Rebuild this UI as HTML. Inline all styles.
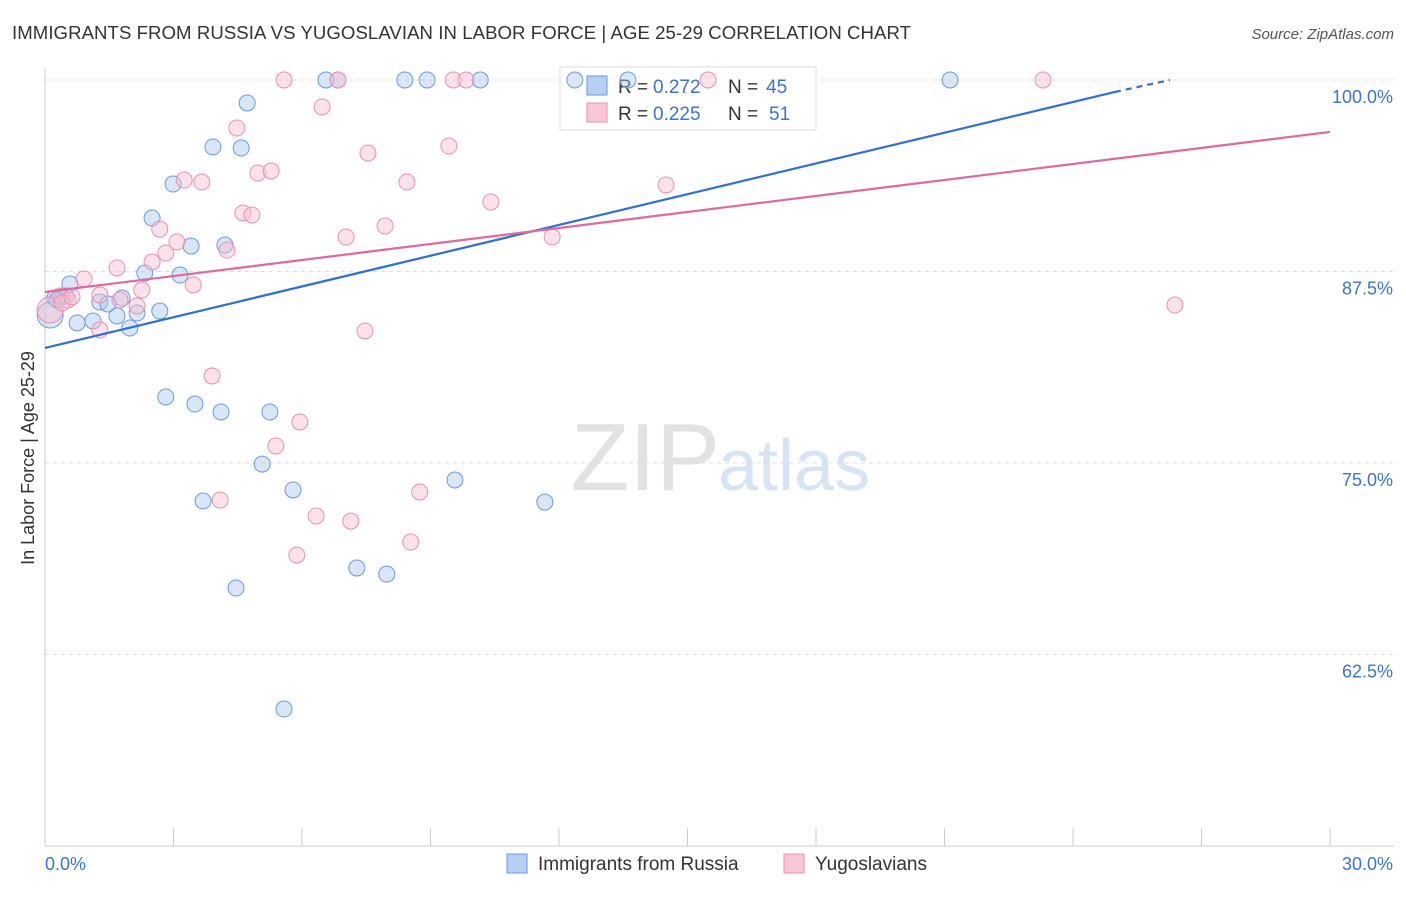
<!DOCTYPE html>
<html><head><meta charset="utf-8"><style>
body{margin:0;background:#fff;font-family:"Liberation Sans",sans-serif}
svg text{font-family:"Liberation Sans",sans-serif}
</style></head><body>
<svg id="c" width="1406" height="892">
<text x="12" y="39" font-size="18.6" fill="#333" textLength="899">IMMIGRANTS FROM RUSSIA VS YUGOSLAVIAN IN LABOR FORCE | AGE 25-29 CORRELATION CHART</text>
<text x="1394" y="39" font-size="15" fill="#555" font-style="italic" text-anchor="end">Source: ZipAtlas.com</text>
<text x="720" y="490" font-size="96" fill="#e2e2e2" text-anchor="end" font-family="Liberation Serif">ZIP</text>
<text x="718" y="490" font-size="72" fill="#d6e4f5">atlas</text>
<g id="grid"></g><g id="axes"></g>
<g>
<rect x="560" y="67" width="256" height="63" fill="#fff" stroke="#ddd"/>
<rect x="587" y="76" width="20" height="19" fill="#b6cff3" stroke="#6a9ae0"/>
<rect x="587" y="103" width="20" height="19" fill="#f9c6d5" stroke="#e991ad"/>
<text x="618" y="93" font-size="19" fill="#333">R =</text>
<text x="653" y="93" font-size="19" fill="#3a74d6">0.272</text>
<text x="728" y="93" font-size="19" fill="#333">N =</text>
<text x="766" y="93" font-size="19" fill="#3a74d6">45</text>
<text x="618" y="120" font-size="19" fill="#333">R =</text>
<text x="653" y="120" font-size="19" fill="#3a74d6">0.225</text>
<text x="728" y="120" font-size="19" fill="#333">N =</text>
<text x="769" y="120" font-size="19" fill="#3a74d6">51</text>
</g>
<g id="marks"></g>
<text transform="translate(34,458) rotate(-90)" font-size="18" fill="#333" text-anchor="middle">In Labor Force | Age 25-29</text>
<g>
<rect x="507" y="854" width="20" height="19" fill="#b6cff3" stroke="#6a9ae0"/>
<text x="538" y="870" font-size="19" fill="#333">Immigrants from Russia</text>
<rect x="784" y="854" width="20" height="19" fill="#f9c6d5" stroke="#e991ad"/>
<text x="815" y="870" font-size="19" fill="#333">Yugoslavians</text>
</g>
</svg>
<script>
const yTicks=[100,87.5,75,62.5];
const yTickLabels=["100.0%","87.5%","75.0%","62.5%"];
const xTickLabels=["0.0%","30.0%"];
const blueX=[0.12,0.23,0.40,0.58,0.75,1.12,1.28,1.47,1.68,1.80,1.98,2.15,2.33,2.50,2.68,2.82,2.99,3.15,3.41,3.50,3.69,3.92,4.11,4.20,4.46,4.58,4.72,5.07,5.25,5.58,5.79,6.56,6.84,7.28,7.98,8.40,8.92,9.57,10.16,11.67,12.37,13.61,21.13,0.49,0.28];
const blueY=[84.66,85.77,85.84,86.68,84.14,84.27,85.51,85.38,84.60,85.77,83.81,84.79,87.40,90.99,84.92,79.31,93.21,87.27,89.16,78.85,72.52,95.63,78.33,89.23,66.84,95.56,98.50,74.93,78.33,58.94,73.24,100,100,68.15,67.75,100,100,73.89,100,72.45,100,100,100,85.90,85.64];
const pinkX=[0.12,0.35,0.54,0.91,1.28,1.68,1.75,2.15,2.26,2.50,2.68,2.82,3.08,3.25,3.46,3.66,3.90,4.09,4.25,4.48,4.62,4.83,4.97,5.28,5.39,5.58,5.88,5.95,6.33,6.47,6.84,7.03,7.14,7.47,7.54,7.94,8.45,8.54,8.75,9.43,9.53,9.83,10.41,11.84,14.50,15.48,23.30,26.38,1.28,0.40,0.63];
const pinkY=[84.99,85.90,85.64,87.01,85.97,87.73,85.64,85.25,86.29,88.12,90.27,88.71,89.43,93.47,86.62,93.34,80.68,72.58,88.90,96.87,91.32,91.19,93.93,94.06,76.11,100,68.99,77.68,71.54,98.24,100,89.75,71.21,83.62,95.23,90.47,93.34,69.84,73.11,95.69,100,100,92.04,89.75,93.15,100,100,85.31,83.68,85.44,85.84];
const blueTrend=[[0,82.51],[24.98,99.22]];
const blueTrendExt=[[24.98,99.22],[26.26,100]];
const pinkTrend=[[0,86.16],[30,96.61]];
const X=v=>45+v/30*1285, Y=v=>80+(100-v)/12.5*191.5;
const NS="http://www.w3.org/2000/svg";
function mk(tag,attrs,parent){const e=document.createElementNS(NS,tag);for(const k in attrs)e.setAttribute(k,attrs[k]);document.getElementById(parent).appendChild(e);return e;}
yTicks.forEach((t,i)=>{
 const g=mk('line',{x1:45,x2:1394,y1:Y(t),y2:Y(t),stroke:'#ddd','stroke-dasharray':'4,4'},'grid');
 
 
 const l=mk('text',{x:1393,y:Y(t)+23,'font-size':18,fill:'#3a74d6','text-anchor':'end'},'axes');
 l.textContent=yTickLabels[i];
 
 
});
const ax=mk('line',{x1:45,x2:45,y1:68,y2:846,stroke:'#ccc'},'axes');


const bx=mk('line',{x1:45,x2:1394,y1:846,y2:846,stroke:'#ccc'},'axes');


for(let i=0;i<=10;i++){const t=mk('line',{x1:X(i*3),x2:X(i*3),y1:828,y2:846,stroke:'#ccc'},'axes');
 
 }
[[0,'start'],[30,'end']].forEach((p,i)=>{const l=mk('text',{x:i?1393:45,y:870,'font-size':18,fill:'#3a74d6','text-anchor':p[1]},'axes');l.textContent=xTickLabels[i];
 
 });
function dots(xs,ys,fill,stroke,name){xs.forEach((x,i)=>{const c=mk('circle',{cx:X(x),cy:Y(ys[i]),r:i===0?13:8,fill:fill,'fill-opacity':0.45,stroke:stroke,'stroke-width':1},'marks');
 
 });}
dots(blueX,blueY,'#a9c7f0','#6a9ae0','russia-point');
dots(pinkX,pinkY,'#f7bfd0','#e991ad','yugoslavian-point');
function line(p,col,dash,name){const l=mk('line',{x1:X(p[0][0]),y1:Y(p[0][1]),x2:X(p[1][0]),y2:Y(p[1][1]),stroke:col,'stroke-width':2.2},'marks');if(dash)l.setAttribute('stroke-dasharray',dash);
 
 }
line(blueTrend,'#2f6fd6',null,'russia-trendline');
line(blueTrendExt,'#2f6fd6','6,5','russia-trendline-extension');
line(pinkTrend,'#e2679a',null,'yugoslavian-trendline');
</script>
</body></html>
